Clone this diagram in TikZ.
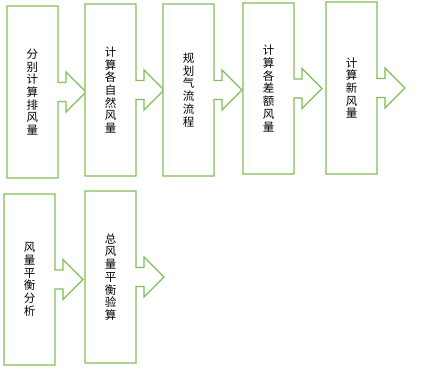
\documentclass[tikz,border=0pt]{standalone}
\usepackage{fontspec}
\newfontfamily\cjk{Noto Sans CJK SC}
\definecolor{boxgreen}{RGB}{128,190,88}
\tikzset{
  boxline/.style={draw=boxgreen, line width=1.3pt, line join=miter, fill=white},
  lbl/.style={inner sep=0pt, align=center, font=\cjk\fontsize{11.5}{12.7}\selectfont, text=black}
}
\newcommand\calloutbox[5]{% name, left, top, bottom, text
  \pgfmathsetmacro\cy{(#3+#4)/2}
  \draw[boxline] (#2,#3) -- ({#2+51},#3) -- ({#2+51},{\cy-9.5}) -- ({#2+59},{\cy-9.5})
    -- ({#2+59},{\cy-20}) -- ({#2+79},\cy) -- ({#2+59},{\cy+20}) -- ({#2+59},{\cy+9.5})
    -- ({#2+51},{\cy+9.5}) -- ({#2+51},#4) -- (#2,#4) -- cycle;
  \node[lbl] (#1) at ({#2+25.5},\cy) {#5};
}
\begin{document}
\begin{tikzpicture}[x=1pt,y=-1pt]
\useasboundingbox (0,0) rectangle (448,372);
\calloutbox{s1}{7}{6}{178}{分\\别\\计\\算\\排\\风\\量}
\calloutbox{s2}{85}{4}{176}{计\\算\\各\\自\\然\\风\\量}
\calloutbox{s3}{163}{4}{176}{规\\划\\气\\流\\流\\程}
\calloutbox{s4}{243}{3}{174}{计\\算\\各\\差\\额\\风\\量}
\calloutbox{s5}{326}{2}{174}{计\\算\\新\\风\\量}
\calloutbox{s6}{4}{194}{365}{风\\量\\平\\衡\\分\\析}
\calloutbox{s7}{85}{191}{363}{总\\风\\量\\平\\衡\\验\\算}
\end{tikzpicture}
\end{document}
